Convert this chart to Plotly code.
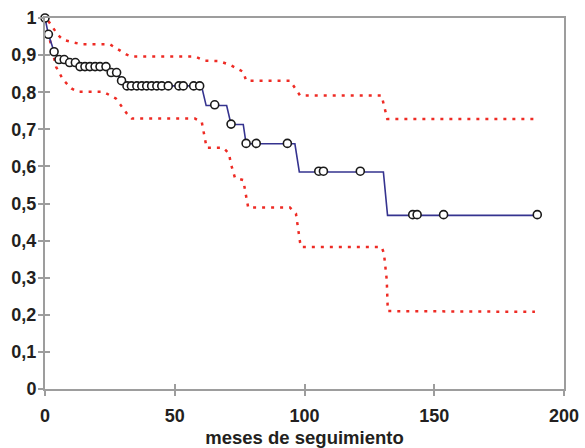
import plotly.graph_objects as go

# Kaplan-Meier curve path (months, survival)
km_t = [0, 1.3, 3.5, 5.4, 7.4, 9.5, 11.7, 13.5, 23.5, 25.4, 27.6, 29.5, 31.7,
        60.3, 62.1, 70.0, 71.7, 76.4, 77.5, 96.3, 98.0, 130.4, 132.0, 189.7]
km_s = [1.0, 0.956, 0.909, 0.888, 0.888, 0.880, 0.880, 0.869, 0.869, 0.853, 0.853, 0.831, 0.817,
        0.817, 0.764, 0.764, 0.713, 0.713, 0.661, 0.661, 0.585, 0.585, 0.468, 0.468]

# Censored observations (open circles)
cens_t = [0, 1.3, 3.5, 5.4, 7.4, 9.5, 11.7, 13.5, 15.4, 17.3, 19.3, 21.2, 23.5,
          25.5, 27.6, 29.5, 31.6, 33.3, 35.4, 37.3, 39.2, 41.1, 43.1, 45.0, 47.5,
          51.6, 53.3, 57.3, 59.6, 65.4, 71.7, 77.5, 81.4, 93.4,
          105.5, 107.3, 121.5, 141.7, 143.4, 153.6, 189.7]
cens_s = [1.0, 0.956, 0.909, 0.888, 0.888, 0.880, 0.880, 0.869, 0.869, 0.869, 0.869, 0.869, 0.869,
          0.853, 0.853, 0.831, 0.817, 0.817, 0.817, 0.817, 0.817, 0.817, 0.817, 0.817, 0.817,
          0.817, 0.817, 0.817, 0.817, 0.766, 0.714, 0.662, 0.662, 0.662,
          0.587, 0.587, 0.587, 0.470, 0.470, 0.470, 0.470]

# Upper confidence limit
up_t = [1.3, 5.0, 7.0, 10.9, 14.1, 25.0, 28.2, 31.3, 33.4, 57.8, 61.5, 67.0, 71.5,
        76.4, 77.5, 94.4, 98.3, 129.7, 131.9, 190.1]
up_s = [0.992, 0.954, 0.941, 0.934, 0.929, 0.929, 0.915, 0.902, 0.896, 0.896, 0.885, 0.884, 0.873,
        0.855, 0.831, 0.831, 0.791, 0.791, 0.728, 0.728]

# Lower confidence limit
lo_t = [1.9, 4.3, 7.0, 10.2, 12.8, 22.5, 27.3, 29.5, 31.5, 33.4, 57.8, 60.4, 61.7, 62.3,
        68.7, 70.9, 71.6, 73.2, 76.4, 77.1, 78.3, 94.4, 96.7, 98.3, 98.6, 129.7,
        130.6, 131.7, 132.1, 188.8]
lo_s = [0.940, 0.868, 0.833, 0.810, 0.801, 0.801, 0.783, 0.762, 0.743, 0.729, 0.729, 0.720, 0.676, 0.650,
        0.650, 0.635, 0.608, 0.569, 0.563, 0.538, 0.489, 0.489, 0.473, 0.395, 0.383, 0.383,
        0.366, 0.294, 0.210, 0.208]

y_ticks = [0, 0.1, 0.2, 0.3, 0.4, 0.5, 0.6, 0.7, 0.8, 0.9, 1.0]
y_labels = ["0", "0,1", "0,2", "0,3", "0,4", "0,5", "0,6", "0,7", "0,8", "0,9", "1"]
x_ticks = [0, 50, 100, 150, 200]
x_labels = ["0", "50", "100", "150", "200"]

RED = "#ee2b24"
NAVY = "#35338f"
AXIS = "#9d9d9d"
TXT = "#231f20"
FONT = "Liberation Sans, Arial, sans-serif"

fig = go.Figure()
fig.add_trace(go.Scatter(x=up_t, y=up_s, mode="lines",
                         line=dict(color=RED, width=2.5, dash="3px,6px"),
                         showlegend=False, hoverinfo="skip"))
fig.add_trace(go.Scatter(x=lo_t, y=lo_s, mode="lines",
                         line=dict(color=RED, width=2.5, dash="3px,6px"),
                         showlegend=False, hoverinfo="skip"))
fig.add_trace(go.Scatter(x=km_t, y=km_s, mode="lines",
                         line=dict(color=NAVY, width=1.6),
                         showlegend=False, hoverinfo="skip"))
fig.add_trace(go.Scatter(x=cens_t, y=cens_s, mode="markers",
                         marker=dict(symbol="circle", size=8, color="white",
                                     line=dict(color="#1a1a1a", width=1.6)),
                         cliponaxis=False, showlegend=False, hoverinfo="skip"))
# helper trace for the overlaid axes (inside tick halves)
fig.add_trace(go.Scatter(x=[None], y=[None], xaxis="x2", yaxis="y2",
                         showlegend=False, hoverinfo="skip"))

tickfont = dict(family=FONT, size=18, color=TXT, weight="bold")

fig.update_layout(
    width=585, height=448,
    margin=dict(l=45, r=21, t=18, b=59),
    paper_bgcolor="white", plot_bgcolor="white",
    xaxis=dict(range=[0, 200], tickvals=x_ticks, ticktext=x_labels, automargin=False,
               showgrid=False, zeroline=False, showline=True, linecolor=AXIS, linewidth=2,
               mirror=True, ticks="outside", ticklen=5, tickwidth=1.5, tickcolor=AXIS,
               tickfont=tickfont, ticklabelstandoff=4,
               title=dict(text="meses de seguimiento", standoff=6,
                          font=dict(family=FONT, size=18.5, color=TXT, weight="bold"))),
    yaxis=dict(range=[0, 1], tickvals=y_ticks, ticktext=y_labels, automargin=False,
               showgrid=False, zeroline=False, showline=True, linecolor=AXIS, linewidth=2,
               mirror=True, ticks="outside", ticklen=5, tickwidth=1.5, tickcolor=AXIS,
               tickfont=tickfont, ticklabelstandoff=-2),
    xaxis2=dict(overlaying="x", matches="x", anchor="y2", side="bottom", automargin=False,
                tickvals=x_ticks, showticklabels=False, showgrid=False, zeroline=False,
                showline=False, ticks="inside", ticklen=5, tickwidth=1.5, tickcolor=AXIS),
    yaxis2=dict(overlaying="y", matches="y", anchor="x2", side="left", automargin=False,
                tickvals=y_ticks, showticklabels=False, showgrid=False, zeroline=False,
                showline=False, ticks="inside", ticklen=5, tickwidth=1.5, tickcolor=AXIS),
)

fig.write_html("out.html")
